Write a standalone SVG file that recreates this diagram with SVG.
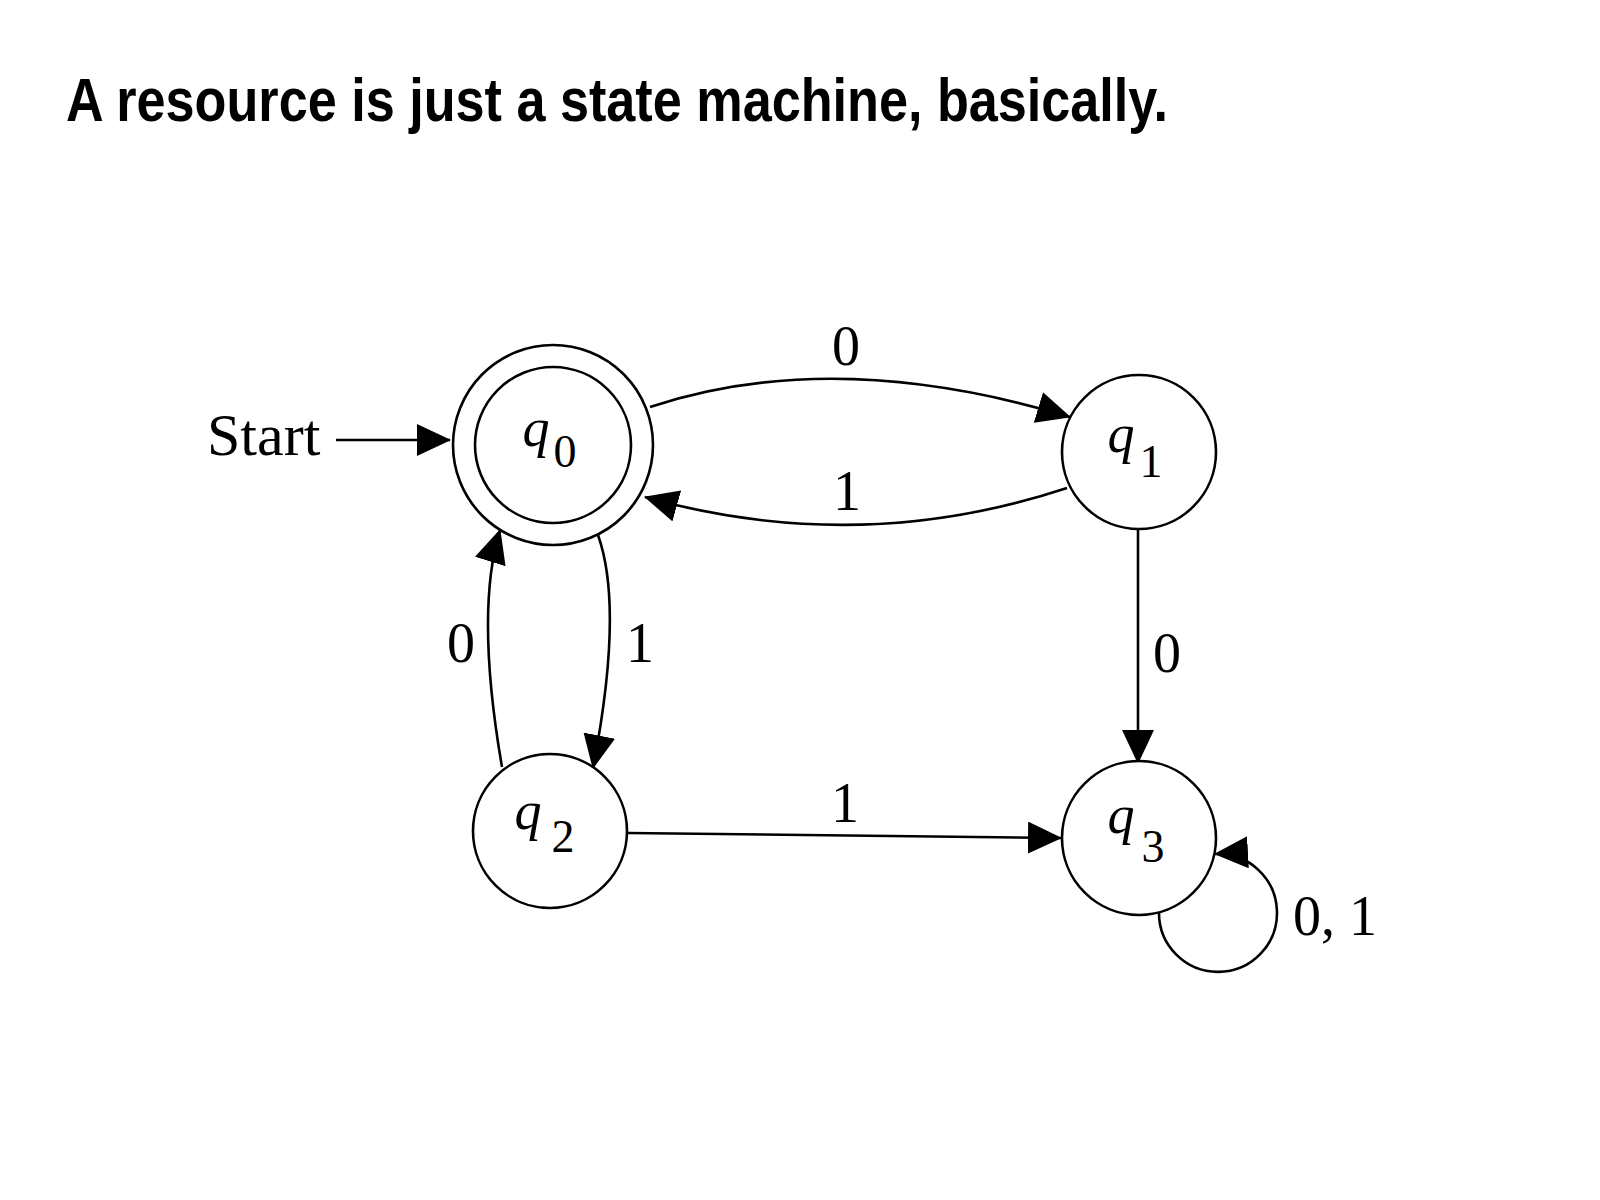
<svg xmlns="http://www.w3.org/2000/svg" width="1600" height="1200" viewBox="0 0 1600 1200">
<style>
  .node { fill: #ffffff; stroke: #000000; stroke-width: 2.6; }
  .edge { fill: none; stroke: #000000; stroke-width: 2.6; marker-end: url(#arrow); }
  .lbl { font-family: "Liberation Serif", "Times New Roman", serif; font-size: 56px; fill: #000000; text-anchor: middle; }
  .q { font-family: "Liberation Serif", "Times New Roman", serif; font-style: italic; font-size: 54px; fill: #000000; text-anchor: middle; }
  .sub { font-family: "Liberation Serif", "Times New Roman", serif; font-size: 46px; fill: #000000; text-anchor: middle; }
  .title { font-family: "Liberation Sans", Arial, sans-serif; font-weight: bold; font-size: 61px; fill: #000000; }
</style>
<defs>
  <marker id="arrow" viewBox="0 0 34 32" refX="33" refY="16" markerWidth="34" markerHeight="32" markerUnits="userSpaceOnUse" orient="auto">
    <path d="M0,0 L34,16 L0,32 Z" fill="#000000"/>
  </marker>
</defs>
<rect x="0" y="0" width="1600" height="1200" fill="#ffffff"/>
<text class="title" x="66" y="121" textLength="1102" lengthAdjust="spacingAndGlyphs">A resource is just a state machine, basically.</text>

<g id="connectors">
  <g id="edge-start">
    <line class="edge" x1="336" y1="440" x2="450" y2="440"/>
    <text class="lbl" x="207" y="455" font-size="60" style="text-anchor:start;font-size:60px">Start</text>
  </g>
  <g id="edge-q0-q1">
    <path class="edge" d="M650,407 Q834,346 1070,417"/>
    <text class="lbl" x="846" y="365">0</text>
  </g>
  <g id="edge-q1-q0">
    <path class="edge" d="M1067,488 Q858,557 645,497"/>
    <text class="lbl" x="847" y="510">1</text>
  </g>
  <g id="edge-q0-q2">
    <path class="edge" d="M598,535 Q624,608 593,768"/>
    <text class="lbl" x="640" y="662">1</text>
  </g>
  <g id="edge-q2-q0">
    <path class="edge" d="M502,767 Q475,611 500,530"/>
    <text class="lbl" x="461" y="662">0</text>
  </g>
  <g id="edge-q1-q3">
    <line class="edge" x1="1138" y1="527" x2="1138" y2="763"/>
    <text class="lbl" x="1167" y="672">0</text>
  </g>
  <g id="edge-q2-q3">
    <line class="edge" x1="628" y1="833" x2="1061" y2="838"/>
    <text class="lbl" x="845" y="822">1</text>
  </g>
  <g id="edge-q3-q3">
    <path class="edge" d="M1159,912 A59,59 0 1 0 1215,854"/>
    <text class="lbl" x="1293" y="935" style="text-anchor:start">0, 1</text>
  </g>
</g>

<g id="node-q0">
  <circle class="node" cx="553" cy="445" r="100"/>
  <circle class="node" cx="553" cy="445" r="78"/>
  <text class="q" x="536" y="446">q</text>
  <text class="sub" x="565" y="467">0</text>
</g>
<g id="node-q1">
  <circle class="node" cx="1139" cy="452" r="77"/>
  <text class="q" x="1121" y="452">q</text>
  <text class="sub" x="1151" y="477">1</text>
</g>
<g id="node-q2">
  <circle class="node" cx="550" cy="831" r="77"/>
  <text class="q" x="528" y="829">q</text>
  <text class="sub" x="563" y="852">2</text>
</g>
<g id="node-q3">
  <circle class="node" cx="1139" cy="838" r="77"/>
  <text class="q" x="1121" y="833">q</text>
  <text class="sub" x="1153" y="862">3</text>
</g>
</svg>
